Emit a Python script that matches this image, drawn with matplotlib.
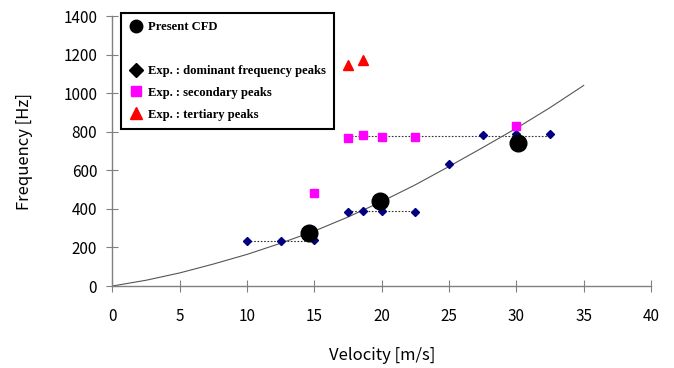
import matplotlib
matplotlib.use("Agg")
import matplotlib.pyplot as plt
from matplotlib.lines import Line2D

# data
cfd_v = [14.6, 19.9, 30.1]
cfd_f = [275, 441, 743]

dom_v = [10, 12.5, 15, 17.5, 18.6, 20, 22.5, 25, 27.5, 30, 32.5]
dom_f = [234, 234, 239, 384, 390, 390, 386, 634, 784, 788, 788]

sec_v = [15, 17.5, 18.6, 20, 22.5, 30]
sec_f = [483, 765, 782, 774, 774, 831]

ter_v = [17.5, 18.6]
ter_f = [1146, 1172]

# trend curve, read at 2.5 m/s steps
fit_v = [0, 2.5, 5, 7.5, 10, 12.5, 15, 17.5, 20, 22.5, 25, 27.5, 30, 32.5, 35]
fit_f = [0, 30, 68, 114, 164, 222, 285, 358, 438, 525, 620, 718, 818, 925, 1040]

# dotted connectors (start v, end v, level)
dot_segs = [(10, 15, 234), (17.5, 22.5, 388), (17.5, 32.5, 778)]

plt.rcParams['font.family'] = ['Noto Sans CJK JP', 'DejaVu Sans']

fig = plt.figure(figsize=(6.74, 3.68), dpi=100)
ax = fig.add_axes([0.1669, 0.2228, 0.799, 0.7337])

for a, b, lev in dot_segs:
    ax.plot([a, b], [lev, lev], ls=(0, (1.5, 1.5)), color='#333333', lw=0.8, zorder=1)

ax.plot(fit_v, fit_f, color='#555555', lw=0.8, zorder=2)
ax.plot(dom_v, dom_f, 'D', color='#000080', ms=4.2, ls='none', zorder=3)
ax.plot(sec_v, sec_f, 's', color='#ff00ff', ms=6, ls='none', zorder=3)
ax.plot(ter_v, ter_f, '^', color='#ff0000', ms=6.5, ls='none', zorder=3)
ax.plot(cfd_v, cfd_f, 'o', color='black', ms=12, ls='none', zorder=4)

ax.set_xlim(0, 40)
ax.set_ylim(0, 1400)
ax.set_xticks(range(0, 41, 5))
ax.set_yticks(range(0, 1401, 200))
for s in ['top', 'right']:
    ax.spines[s].set_visible(False)
for s in ['left', 'bottom']:
    ax.spines[s].set_color('#808080')
    ax.spines[s].set_linewidth(1.0)
ax.tick_params(axis='both', direction='inout', length=8, color='#808080', labelsize=11)
ax.tick_params(axis='x', pad=12)
ax.tick_params(axis='y', pad=7)
ax.set_xlabel('Velocity [m/s]', fontsize=12, labelpad=16)
ax.set_ylabel('Frequency [Hz]', fontsize=12, labelpad=22)

handles = [
    Line2D([], [], marker='o', color='black', ls='none', ms=9),
    Line2D([], [], ls='none'),
    Line2D([], [], marker='D', color='black', ls='none', ms=7),
    Line2D([], [], marker='s', color='#ff00ff', ls='none', ms=7),
    Line2D([], [], marker='^', color='#ff0000', ls='none', ms=9),
]
labels = ['Present CFD', '', 'Exp. : dominant frequency peaks',
          'Exp. : secondary peaks', 'Exp. : tertiary peaks']
leg = fig.legend(handles, labels, loc='upper left',
                 bbox_to_anchor=(121 / 674, 1 - 13 / 368),
                 prop={'family': 'Liberation Serif', 'weight': 'bold', 'size': 9.1},
                 frameon=True, fancybox=False, framealpha=1, edgecolor='black',
                 borderpad=0.65, labelspacing=0.78, handletextpad=0.4,
                 handlelength=1.1, borderaxespad=0)
leg.get_frame().set_linewidth(1.5)

fig.savefig('out.png', dpi=100)
